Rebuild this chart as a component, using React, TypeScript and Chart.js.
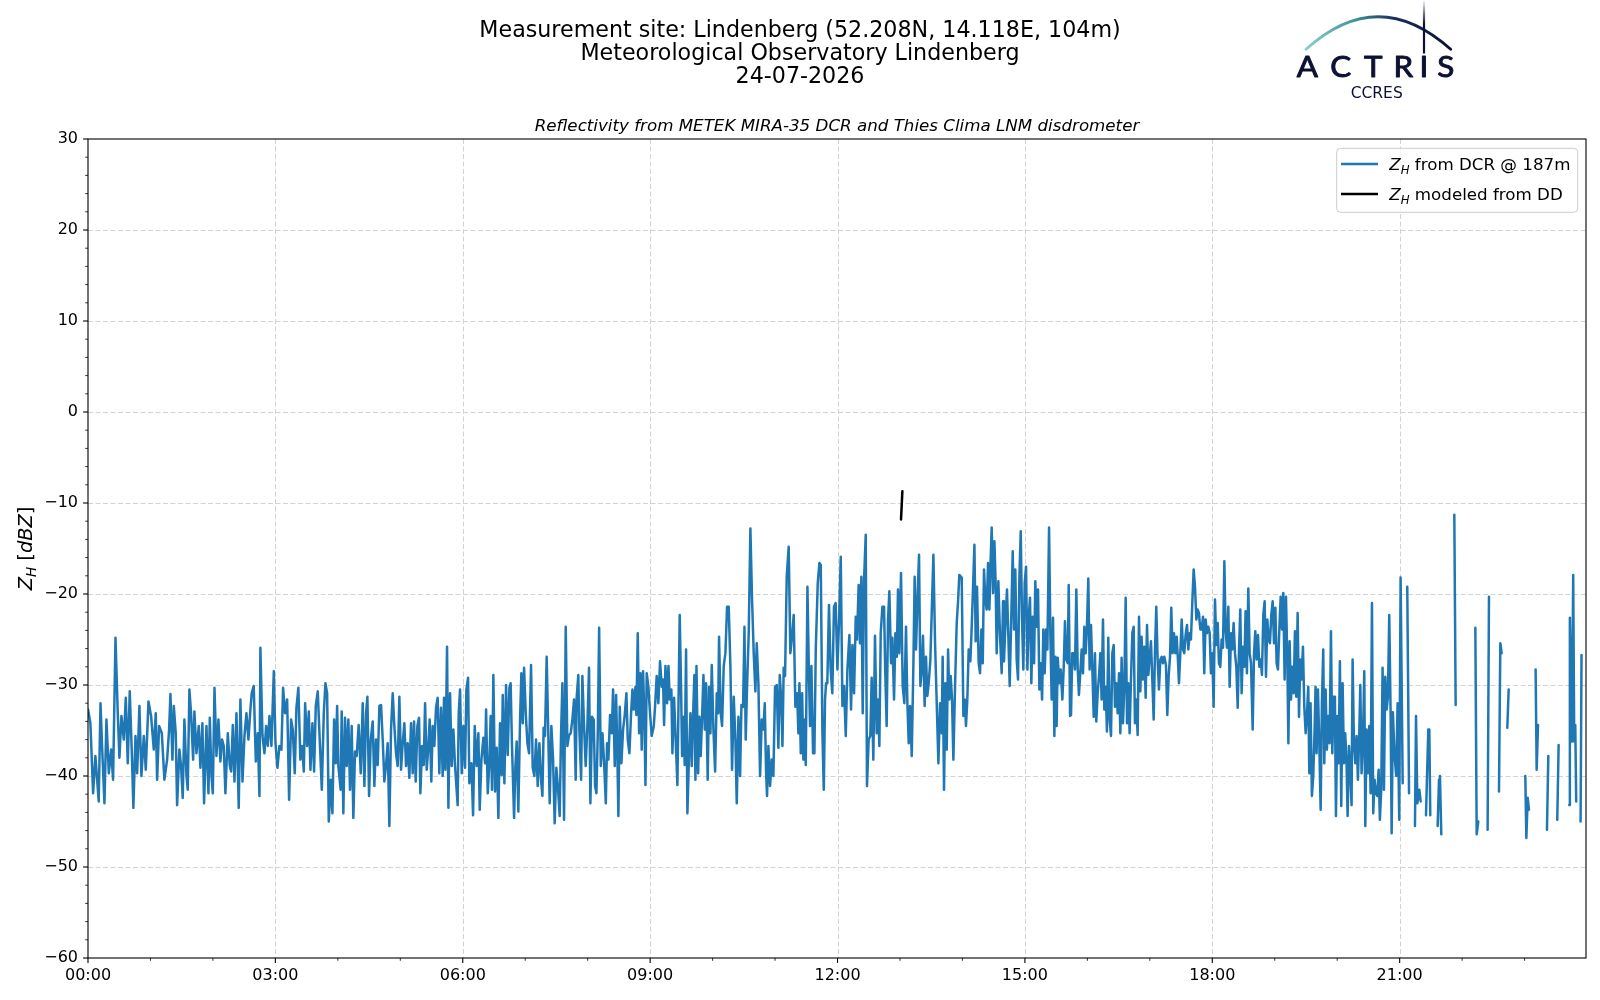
import { useEffect, useRef } from 'react';
import { Chart, registerables } from 'chart.js';

Chart.register(...registerables);

// ---- data: minutes after 00:00 UTC and Z_H in dBZ ----

// 00:00 - 04:00
const minutesA = [
  0.0, 2.3, 4.9, 7.1, 10.3, 12.0, 13.5, 15.8, 17.7, 20.0,
  22.2, 24.1, 26.4, 28.6, 30.2, 32.1, 34.4, 36.3, 38.2, 40.1,
  42.1, 43.6, 45.6, 47.2, 49.4, 51.3, 53.6, 55.5, 58.1, 60.6,
  63.2, 65.1, 66.4, 68.3, 70.9, 73.4, 76.0, 77.9, 79.2, 81.1,
  82.4, 84.3, 85.6, 87.8, 89.4, 91.0, 92.6, 94.6, 95.8, 97.4,
  99.0, 101.0, 102.2, 104.2, 106.4, 108.0, 109.9, 111.5, 113.8, 115.7,
  117.0, 118.6, 119.9, 121.5, 123.4, 125.3, 127.2, 128.8, 130.4, 132.0,
  134.3, 136.2, 137.5, 139.1, 140.7, 142.6, 144.8, 146.4, 148.4, 150.3,
  152.2, 154.1, 156.0, 157.3, 159.2, 161.2, 163.1, 164.7, 165.6, 167.6,
  169.5, 171.1, 172.7, 174.3, 176.2, 178.5, 180.1, 182.0, 183.9, 185.8,
  187.4, 189.3, 191.3, 193.2, 195.1, 196.7, 198.6, 200.2, 202.1, 204.0,
  205.7, 207.3, 208.6, 210.5, 212.1, 213.7, 215.6, 217.2, 218.8, 220.7,
  222.6, 224.6, 226.5, 228.1, 229.7, 231.3, 233.2, 234.8, 236.4, 238.0,
  239.3,
];
const zhA = [
  -32.7, -34.2, -41.9, -37.8, -42.8, -32, -36.7, -43, -33.8, -39.7,
  -37.1, -40.4, -24.8, -33.1, -38, -33.4, -36, -31.4, -38.6, -30.7,
  -37.5, -43.5, -35.6, -39.7, -32.3, -40, -35.6, -39.3, -31.8, -33.4,
  -37.1, -33.1, -40.4, -34.5, -35.3, -40.4, -38.2, -34.9, -31, -38.2,
  -32.3, -35.3, -43.2, -37.1, -38.9, -42.4, -33.8, -40, -41.5, -30.5,
  -33.1, -38.2, -32.9, -37.5, -34.5, -39.1, -34.2, -43, -34.5, -41.9,
  -33.6, -40, -41.9, -30.3, -37.8, -33.8, -38.4, -36, -36.7, -41.9,
  -35.3, -38.9, -39.5, -34.4, -40.6, -33.1, -43.5, -31.6, -40.6, -35.6,
  -33.1, -36, -32.7, -30.9, -30.1, -38.4, -35.3, -42.2, -25.9, -35.6,
  -37.5, -34.5, -36.7, -33.4, -36.7, -28.5, -36.4, -39.1, -36.7, -37.1,
  -30.3, -33.1, -31.6, -42.6, -33.8, -34.9, -39.7, -32.5, -30.3, -38.2,
  -36.7, -39.5, -32, -36.7, -32.9, -39.3, -34.2, -39.5, -32.3, -30.7,
  -36, -41.5, -33.1, -29.8, -30.9, -45, -40.4, -44.1, -33.8, -38.6,
  -32.3,
];

// 04:00 - 07:52
const minutesB = [
  240.5, 242.7, 243.7, 245.3, 246.9, 248.5, 250.1, 251.7, 253.3, 254.9,
  256.5, 258.1, 260.0, 262.0, 263.9, 265.5, 267.1, 268.4, 270.0, 271.6,
  273.5, 275.1, 276.7, 278.3, 279.9, 281.5, 283.1, 284.7, 286.3, 287.9,
  289.5, 291.1, 292.7, 294.3, 295.9, 297.5, 299.1, 300.7, 302.3, 303.9,
  305.5, 307.1, 308.7, 310.3, 311.9, 313.2, 314.8, 316.4, 318.0, 319.3,
  320.9, 322.5, 323.8, 325.4, 327.0, 328.2, 329.8, 331.1, 332.7, 334.3,
  335.9, 337.5, 339.1, 340.7, 342.0, 343.3, 344.9, 346.2, 347.8, 349.4,
  351.0, 352.6, 355.1, 356.1, 357.4, 359.0, 360.6, 362.2, 363.5, 365.1,
  366.3, 368.3, 369.9, 371.5, 373.4, 375.0, 376.3, 377.9, 379.8, 381.4,
  382.4, 384.0, 385.6, 386.8, 388.1, 389.4, 391.0, 392.6, 394.2, 395.8,
  397.4, 398.4, 400.0, 401.6, 403.2, 404.8, 406.0, 407.3, 409.3, 410.5,
  411.8, 413.4, 415.0, 416.3, 417.6, 418.9, 420.5, 422.1, 423.7, 425.6,
  427.2, 428.8, 430.4, 432.0, 433.6, 435.2, 436.5, 437.7, 439.0, 440.6,
  442.2, 443.5, 445.1, 446.7, 448.3, 449.9, 451.5, 453.1, 454.4, 455.7,
  457.3, 458.9, 460.5, 462.1, 463.7, 465.3, 466.9, 468.5, 469.4, 471.0,
  472.0,
];
const zhB = [
  -38.9, -41.5, -32.9, -44.1, -33.6, -38.9, -33.8, -41.5, -34.5, -44.6,
  -37.3, -37.8, -34.4, -39.7, -32, -41.1, -33.1, -31.3, -42.2, -36,
  -34, -41.1, -36, -38.8, -32.3, -32.2, -36, -40.6, -38.8, -36.4,
  -45.5, -34.9, -30.9, -34.5, -37.5, -38.9, -31.3, -39.3, -36.4, -34.2,
  -38.9, -36.4, -40.2, -34.2, -39.7, -34, -40.6, -34.5, -33.6, -41.9,
  -36.7, -38.8, -32, -39.3, -36.7, -33.8, -40.6, -34.5, -36.7, -32.5,
  -31.4, -39.7, -32.5, -40, -31.4, -39.3, -25.8, -43.5, -30.9, -38.9,
  -34.9, -38.9, -43.2, -33.1, -30.5, -39.7, -34.5, -39.1, -30.5, -29.2,
  -40.8, -38.6, -44.3, -34.5, -38.9, -35.3, -43.7, -38.2, -35.8, -38.6,
  -32.7, -41.9, -38.4, -33.4, -41.5, -28.9, -41.7, -36.9, -44.6, -34.2,
  -39.9, -31.1, -40.8, -30, -37.7, -30.3, -29.8, -36.7, -44.6, -39.1,
  -36.2, -43.9, -34, -28.7, -34.2, -28.1, -33.1, -36.4, -37.5, -27.8,
  -39.1, -40, -36, -41.1, -36.4, -40.4, -42.2, -34.7, -35.6, -26.9,
  -35.6, -43, -34.5, -38, -45.2, -39.1, -41.3, -44.4, -35.5, -29.8,
  -44.8, -23.6, -36.7, -35.5, -35.3, -33.8, -31.6, -40.4, -31.4, -28.9,
  -34.9,
];

// 07:53 - 11:48
const minutesC = [
  473.7, 474.9, 476.5, 478.1, 479.7, 481.3, 482.6, 484.2, 485.8, 487.1,
  488.4, 489.7, 491.0, 492.6, 494.2, 495.8, 497.4, 498.6, 499.9, 501.5,
  503.1, 504.4, 506.0, 507.3, 508.6, 509.5, 510.8, 512.4, 514.0, 515.6,
  517.2, 518.5, 520.1, 521.7, 523.0, 524.3, 525.9, 526.8, 528.1, 529.4,
  530.7, 531.9, 533.2, 534.5, 535.5, 536.7, 538.3, 539.9, 541.5, 543.5,
  544.7, 546.3, 547.9, 549.5, 551.2, 552.4, 553.4, 554.7, 556.3, 557.6,
  558.8, 560.4, 561.4, 563.0, 564.3, 566.2, 568.4, 569.7, 570.7, 572.3,
  573.2, 574.5, 575.8, 577.4, 578.7, 580.0, 581.3, 582.5, 583.5, 584.5,
  586.1, 587.3, 588.6, 589.9, 591.2, 592.5, 593.7, 595.3, 596.6, 597.9,
  599.2, 600.8, 602.4, 604.0, 605.3, 606.2, 607.8, 609.1, 610.7, 612.3,
  613.9, 615.5, 617.1, 618.7, 620.3, 621.9, 623.2, 624.8, 626.4, 627.7,
  629.3, 630.6, 631.8, 633.1, 634.7, 636.3, 637.9, 639.5, 641.1, 642.4,
  644.0, 645.6, 647.2, 648.8, 650.1, 651.4, 652.3, 653.6, 655.2, 656.8,
  658.4, 660.0, 661.6, 663.2, 664.5, 665.8, 667.1, 668.3, 669.6, 671.2,
  673.1, 674.7, 676.3, 677.9, 679.5, 681.2, 682.4, 683.4, 684.7, 686.0,
  687.2, 688.2, 689.5, 691.1, 692.4, 693.6, 694.9, 696.5, 697.8, 699.1,
  701.0, 702.6, 703.9, 705.5, 706.8, 708.0,
];
const zhC = [
  -40.4, -29, -34.5, -38.9, -34.5, -28.1, -43, -33.5, -33.8, -41.1,
  -41.9, -35.3, -23.7, -38.9, -35.3, -38.6, -43, -36.4, -38.2, -33.3,
  -35.3, -30.5, -38.9, -31.1, -38.2, -44.4, -32.4, -38.6, -34.9, -33.3,
  -30.9, -36, -37.5, -33.1, -30.5, -32.7, -30.2, -33.3, -24.3, -35.3,
  -28.7, -37.1, -28.5, -33.5, -41, -28.7, -30.2, -33.1, -35.6, -34.5,
  -32.4, -29, -32, -27.4, -30.2, -29.4, -34.4, -27.9, -32, -27.9,
  -31.6, -30.5, -37.5, -31.4, -35.3, -41, -22.3, -30.2, -37.8, -33.5,
  -38.8, -26.1, -44.1, -37.5, -33.1, -38.9, -33.1, -28.9, -40.4, -27.9,
  -39.7, -33.5, -37.8, -33.5, -28.9, -34.9, -29.8, -40.4, -30.2, -35.3,
  -27.8, -34.9, -39.5, -30.9, -33.1, -24.7, -33.1, -34.5, -27.9, -26.5,
  -21.4, -21.4, -27.9, -39.3, -31.3, -36, -43, -33.5, -40, -32.2,
  -32.4, -23.6, -36, -30.2, -24.3, -12.8, -20.6, -26.5, -30.7, -25.4,
  -29.8, -40, -33.8, -34.9, -32, -39.7, -42.2, -36.7, -41.1, -38.2,
  -40, -30.2, -30, -36.9, -28.9, -31.3, -36.7, -28.1, -29, -18.1,
  -14.8, -26.5, -24.7, -22.3, -32.4, -30.9, -35.3, -29.8, -37.5, -30.9,
  -38.2, -33.8, -38.8, -19.2, -27.9, -34.5, -27.9, -37.5, -37.5, -26.1,
  -18.8, -16.6, -16.8, -35.3, -41.5, -31.6,
];

// 11:49 - 15:43
const minutesD = [
  709.0, 710.2, 711.8, 713.4, 715.0, 716.6, 718.2, 719.9, 721.5, 723.1,
  724.7, 726.3, 727.9, 729.5, 731.4, 733.0, 734.3, 735.9, 737.5, 738.7,
  740.3, 741.6, 742.9, 744.2, 745.5, 747.1, 748.3, 749.9, 751.5, 752.8,
  754.4, 756.0, 757.6, 758.9, 760.2, 761.5, 763.1, 764.7, 765.8, 767.2,
  768.5, 769.8, 771.4, 772.7, 774.3, 775.6, 776.9, 778.1, 779.4, 781.0,
  782.6, 784.2, 785.8, 787.1, 788.4, 789.7, 791.3, 792.9, 794.1, 795.4,
  797.0, 798.3, 799.6, 800.9, 802.1, 803.7, 805.0, 806.3, 807.6, 809.2,
  810.8, 812.1, 813.7, 815.3, 816.9, 818.5, 820.1, 821.0, 822.3, 823.6,
  824.9, 826.2, 827.4, 828.7, 830.0, 831.3, 832.9, 834.5, 835.8, 837.0,
  839.3, 840.9, 842.2, 843.4, 844.7, 846.0, 847.6, 848.9, 850.2, 851.5,
  852.7, 854.0, 855.6, 856.9, 858.2, 859.5, 860.7, 862.0, 863.3, 864.6,
  865.9, 867.1, 868.1, 869.4, 870.7, 871.9, 872.9, 874.5, 876.1, 877.7,
  879.0, 879.9, 881.5, 882.8, 884.1, 885.4, 887.0, 888.3, 889.6, 890.8,
  892.1, 893.4, 894.7, 896.0, 897.2, 898.5, 899.8, 901.1, 902.4, 903.6,
  904.9, 906.2, 907.5, 908.8, 910.0, 911.3, 912.6, 913.9, 915.2, 916.5,
  917.7, 919.0, 920.3, 921.6, 923.2, 924.5, 925.7, 927.0, 928.3, 929.3,
  930.5, 931.5, 933.1, 934.4, 936.0, 937.3, 938.5, 939.8, 941.1, 942.1,
  943.4,
];
const zhD = [
  -29.8, -29.8, -21.2, -28.3, -30.9, -21.4, -21, -28.3, -22.8, -15.9,
  -32.3, -30.1, -35.6, -28.3, -24.5, -32.7, -25.6, -30.9, -22.5, -25,
  -19, -25.4, -18.1, -33.1, -18.4, -13.5, -41.1, -36, -35.6, -29.2,
  -38.2, -24.6, -35.3, -31.6, -36.7, -24.3, -21.4, -21.4, -28.3, -34.5,
  -22.8, -19.7, -27.6, -24.8, -31.6, -24.3, -26.9, -19.5, -26.5, -17.7,
  -30.1, -32, -23.6, -32, -36.4, -32.3, -37.8, -27.6, -18.1, -26.1,
  -19.9, -15.7, -30.1, -28.3, -24.6, -32.3, -26.9, -31.2, -29.8, -27.2,
  -20.8, -15.7, -25.4, -32, -38.6, -32, -35.3, -26.9, -41.5, -29.8,
  -37.1, -26.1, -31.6, -29, -31.6, -38.2, -30.1, -23.2, -20.8, -17.9,
  -18.2, -33.4, -31.6, -34.5, -31.6, -26.1, -27.4, -23.6, -19.2, -14.6,
  -25.2, -19.2, -27.6, -28.7, -23.9, -27.6, -17.3, -20.6, -21.7, -16.6,
  -21.7, -16.2, -12.7, -19.9, -14.2, -18.8, -26.5, -18.6, -24.6, -28.7,
  -20.8, -27.4, -22.8, -19.5, -24.6, -30.1, -22.1, -15.3, -23.9, -17.3,
  -27.2, -29.4, -18.1, -13.1, -22.5, -28.3, -18.8, -17, -28.3, -22.5,
  -20.4, -29.8, -22.5, -27.6, -18.6, -23.6, -19.5, -30.5, -27.6, -31.6,
  -23.9, -28.7, -23.9, -26.1, -12.7, -24.6, -31.6, -22.6, -35.6, -26.9,
  -34.5, -27, -29.8, -28.3, -31.6, -28, -23, -27.2, -27.6, -19,
  -33.4,
];

// 15:44 - 19:33
const minutesE = [
  944.3, 945.5, 946.8, 948.1, 949.4, 950.7, 951.9, 953.2, 954.5, 955.8,
  957.1, 958.4, 959.6, 960.9, 962.2, 963.5, 964.8, 966.1, 967.3, 968.6,
  969.9, 971.2, 972.5, 973.7, 975.0, 976.3, 977.6, 978.8, 980.1, 981.4,
  982.7, 984.0, 985.3, 986.5, 987.8, 989.1, 990.4, 991.7, 992.9, 994.2,
  995.5, 996.8, 998.1, 999.3, 1000.6, 1001.9, 1003.2, 1004.5, 1005.7, 1007.0,
  1008.3, 1009.6, 1010.9, 1012.1, 1013.4, 1014.7, 1016.0, 1017.3, 1018.6, 1019.8,
  1021.1, 1022.4, 1023.7, 1025.0, 1026.2, 1027.5, 1028.8, 1030.1, 1031.4, 1032.6,
  1033.9, 1035.5, 1036.8, 1038.1, 1039.4, 1040.6, 1041.9, 1043.2, 1044.5, 1045.8,
  1047.0, 1048.0, 1049.3, 1050.6, 1051.9, 1053.1, 1054.4, 1055.7, 1057.0, 1058.3,
  1059.5, 1060.8, 1062.1, 1063.4, 1064.7, 1065.9, 1067.2, 1068.5, 1069.8, 1071.1,
  1072.3, 1073.6, 1074.9, 1076.2, 1077.5, 1078.7, 1080.0, 1081.3, 1082.6, 1083.9,
  1085.2, 1086.4, 1087.7, 1089.0, 1090.3, 1091.6, 1092.8, 1094.1, 1095.4, 1096.7,
  1098.0, 1099.2, 1100.5, 1101.8, 1103.1, 1104.4, 1105.6, 1106.9, 1108.2, 1109.5,
  1110.8, 1112.0, 1113.3, 1114.6, 1115.9, 1117.2, 1118.8, 1120.1, 1121.3, 1122.6,
  1123.9, 1125.2, 1126.5, 1127.7, 1129.0, 1130.3, 1131.6, 1132.9, 1134.1, 1135.4,
  1136.7, 1138.0, 1139.3, 1140.6, 1141.8, 1143.1, 1144.4, 1145.7, 1147.0, 1148.2,
  1149.5, 1150.8, 1152.1, 1153.1, 1154.3, 1155.6, 1156.9, 1158.2, 1159.4, 1160.7,
  1162.0, 1163.3, 1164.6, 1165.8, 1167.1, 1168.4, 1169.7, 1171.0, 1172.2, 1173.2,
];
const zhE = [
  -33.3, -26.5, -26.5, -28.3, -19.5, -28.1, -31.1, -28.7, -26.1, -28.7,
  -23.6, -26.5, -23.6, -18.3, -28.3, -23.4, -28.3, -33.5, -26.5, -34,
  -30.9, -29, -26.5, -31.6, -22.8, -32.7, -30.2, -35.1, -24.8, -33.8,
  -35.6, -26.5, -25.6, -32.4, -29.8, -33.1, -28.7, -35.3, -27, -34.2,
  -30.3, -20.4, -34.2, -29.8, -35.3, -29.4, -24.3, -23.6, -34.2, -31.6,
  -35.5, -22.5, -30.7, -24.7, -29.4, -25.8, -31.4, -23.4, -28.9, -26.9,
  -25.2, -29.4, -33.8, -26.1, -21.4, -27.2, -30.5, -27.2, -26.9, -27.6,
  -26.9, -27.8, -33.3, -29, -26.9, -21.5, -26.5, -24.3, -26.5, -24.7,
  -27.2, -29.8, -26.5, -22.8, -26.1, -26.5, -24.5, -23.4, -26.1, -24.3,
  -25, -21, -17.3, -19.2, -22.8, -21.7, -22.1, -23.9, -23.9, -22.5,
  -28.7, -22.8, -24.3, -23.6, -24.3, -28.7, -26.5, -32.4, -20.6, -25.6,
  -23.2, -27.6, -28, -25, -25.9, -16.4, -23.9, -25.9, -21.4, -30.2,
  -24.3, -26.1, -23.2, -26.5, -28, -32.5, -26.5, -21.7, -30.9, -25.8,
  -28, -21.9, -28.7, -19.4, -26.5, -27.6, -34.9, -26.5, -24.1, -27.2,
  -24.5, -28, -27.2, -28.9, -22.3, -20.8, -29.1, -22.8, -25, -25.4,
  -22.3, -20.8, -25.4, -21.5, -27.6, -28.3, -23.9, -20.3, -23.9, -19.9,
  -29.4, -20.3, -27.2, -36.4, -25.2, -31.6, -28, -30.9, -24.1, -31.3,
  -22.1, -33.5, -27.2, -29.4, -25.8, -32.4, -35.3, -33.1, -30.2, -39.7,
];

// 19:34 - 21:00
const minutesF = [
  1174.4, 1175.7, 1177.0, 1178.3, 1179.2, 1180.2, 1181.5, 1182.8, 1184.1, 1185.3,
  1186.6, 1187.6, 1188.9, 1190.1, 1191.4, 1192.7, 1194.0, 1195.3, 1196.5, 1197.8,
  1198.8, 1200.1, 1201.3, 1202.6, 1203.9, 1205.2, 1206.5, 1207.7, 1209.0, 1210.0,
  1211.3, 1212.5, 1213.8, 1214.8, 1216.1, 1217.4, 1218.6, 1219.9, 1221.2, 1222.2,
  1223.4, 1224.7, 1226.0, 1227.0, 1228.2, 1229.5, 1230.8, 1232.1, 1233.4, 1234.6,
  1235.9, 1237.2, 1238.5, 1239.8, 1241.0, 1242.3, 1243.6, 1244.9, 1246.2, 1247.5,
  1248.7, 1250.0, 1251.3, 1252.3, 1253.5, 1255.1, 1256.7, 1258.0, 1259.6,
];
const zhF = [
  -32, -42.2, -40, -34.9, -30.2, -37.5, -30.5, -36.4, -43.7, -32,
  -26.1, -38.6, -30.5, -37.1, -33.4, -36.4, -24.1, -37.5, -31.3, -31.3,
  -44.4, -33.4, -38.6, -27.4, -43.3, -29.8, -38.6, -35.3, -38.6, -44.4,
  -36.7, -39.3, -43.2, -27.2, -36.4, -38.6, -35.6, -40.4, -35.3, -30,
  -39.7, -36.4, -28.5, -45.5, -34.9, -39.7, -34.5, -41.9, -21, -44.1,
  -40.4, -41.9, -42.2, -39.3, -44.8, -41.5, -28.1, -41.5, -29.1, -32.7,
  -31.3, -22.3, -33, -46.3, -33, -37.8, -40, -32, -44.8,
];

// 21:00 - 24:00, broken record (null = no echo)
const minutesG = [
  1260.9, 1262.9, 1265, 1267.3, 1269.0, 1272,
  1274.7, 1275.7, 1277.0, 1278.9, 1280.2, 1283,
  1285.3, 1287.5, 1288.5, 1289.4, 1293,
  1296.5, 1297.8, 1298.7, 1300.0, 1306,
  1312.5, 1313.8, 1323,
  1332.7, 1334.0, 1335.5, 1340,
  1344.5, 1345.8, 1350,
  1355.4, 1356.7, 1358.0, 1361,
  1363.4, 1364.7, 1372,
  1380.7, 1381.7, 1383.0, 1384.2, 1387,
  1390.6, 1391.6, 1392.9, 1397,
  1401.5, 1402.8, 1407,
  1411.4, 1412.7, 1418,
  1422.9, 1423.5, 1425.5, 1426.7, 1427.7, 1428.7, 1429.6, 1432,
  1433.8, 1434.7,
];
const zhG = [
  -18.2, -40.8, null, -19.2, -41.9, null,
  -45.5, -33.4, -43, -41.5, -42.8, null,
  -44.3, -34.9, -34.9, -44.3, null,
  -45.5, -40.4, -40, -46.4, null,
  -11.3, -32.2, null,
  -23.7, -46.4, -45, null,
  -45.9, -20.3, null,
  -41.7, -25.4, -26.5, null,
  -34.7, -30.5, null,
  -40, -46.8, -42.4, -43.7, null,
  -28.3, -39.3, -34.4, null,
  -45.9, -37.8, null,
  -44.8, -36.6, null,
  -43.2, -22.6, -36.2, -17.9, -36.2, -34.4, -42.8, null,
  -45, -26.7,
];

// modeled from disdrometer
const ddMinutes = [781.0, 782.3];
const ddZh = [-11.8, -8.7];

const dcrMinutes = [...minutesA, ...minutesB, ...minutesC, ...minutesD, ...minutesE, ...minutesF, ...minutesG];
const dcrZh: (number | null)[] = [...zhA, ...zhB, ...zhC, ...zhD, ...zhE, ...zhF, ...zhG];

const timeTickMinutes = [0, 180, 360, 540, 720, 900, 1080, 1260];
const timeTickText = ['00:00', '03:00', '06:00', '09:00', '12:00', '15:00', '18:00', '21:00'];
const zTickValues = [-60, -50, -40, -30, -20, -10, 0, 10, 20, 30];
const zTickText = ['\u221260', '\u221250', '\u221240', '\u221230', '\u221220', '\u221210', '0', '10', '20', '30'];

const titleLines = [
  'Measurement site: Lindenberg (52.208N, 14.118E, 104m)',
  'Meteorological Observatory Lindenberg',
  '24-07-2026',
];
const subtitle = 'Reflectivity from METEK MIRA-35 DCR and Thies Clima LNM disdrometer';
const legendRest = [' from DCR @ 187m', ' modeled from DD'];
const legendColors = ['#1f77b4', '#000000'];

const FAMILY = '"DejaVu Sans"';

type Part = { t: string; italic?: boolean; sub?: boolean };

function partFont(p: Part, size: number) {
  const s = p.sub ? size * 0.7 : size;
  return `${p.italic ? 'italic ' : ''}${s}px ${FAMILY}`;
}

function measureParts(ctx: CanvasRenderingContext2D, parts: Part[], size: number) {
  let w = 0;
  for (const p of parts) {
    ctx.font = partFont(p, size);
    w += ctx.measureText(p.t).width;
  }
  return w;
}

function drawParts(ctx: CanvasRenderingContext2D, parts: Part[], x: number, y: number, size: number) {
  let cx = x;
  ctx.textAlign = 'left';
  ctx.textBaseline = 'alphabetic';
  for (const p of parts) {
    ctx.font = partFont(p, size);
    ctx.fillText(p.t, cx, p.sub ? y + size * 0.22 : y);
    cx += ctx.measureText(p.t).width;
  }
}

const figurePlugin = {
  id: 'figure',
  beforeDraw(chart: any) {
    const ctx = chart.ctx;
    ctx.save();
    ctx.fillStyle = '#ffffff';
    ctx.fillRect(0, 0, chart.width, chart.height);
    ctx.restore();
  },
  beforeDatasetsDraw(chart: any) {
    const { ctx, chartArea: a, scales } = chart;
    ctx.save();
    ctx.strokeStyle = '#d3d3d3';
    ctx.lineWidth = 1;
    ctx.setLineDash([5, 2.5]);
    for (const m of timeTickMinutes) {
      if (m === 0) continue;
      const x = Math.round(scales.x.getPixelForValue(m)) + 0.5;
      ctx.beginPath();
      ctx.moveTo(x, a.top);
      ctx.lineTo(x, a.bottom);
      ctx.stroke();
    }
    for (const v of zTickValues) {
      if (v === -60 || v === 30) continue;
      const y = Math.round(scales.y.getPixelForValue(v)) + 0.5;
      ctx.beginPath();
      ctx.moveTo(a.left, y);
      ctx.lineTo(a.right, y);
      ctx.stroke();
    }
    ctx.restore();
  },
  afterDatasetsDraw(chart: any) {
    const { ctx, chartArea: a, scales } = chart;
    ctx.save();
    ctx.strokeStyle = '#000';
    // minor ticks
    ctx.lineWidth = 0.8;
    for (let v = -60; v <= 30; v += 2) {
      if (v % 10 === 0) continue;
      const y = scales.y.getPixelForValue(v);
      ctx.beginPath();
      ctx.moveTo(a.left - 2.8, y);
      ctx.lineTo(a.left, y);
      ctx.stroke();
    }
    for (let m = 60; m < 1440; m += 60) {
      if (m % 180 === 0) continue;
      const x = scales.x.getPixelForValue(m);
      ctx.beginPath();
      ctx.moveTo(x, a.bottom);
      ctx.lineTo(x, a.bottom + 2.8);
      ctx.stroke();
    }
    // major ticks
    ctx.lineWidth = 1.1;
    for (const v of zTickValues) {
      const y = scales.y.getPixelForValue(v);
      ctx.beginPath();
      ctx.moveTo(a.left - 4.9, y);
      ctx.lineTo(a.left, y);
      ctx.stroke();
    }
    for (const m of timeTickMinutes) {
      const x = scales.x.getPixelForValue(m);
      ctx.beginPath();
      ctx.moveTo(x, a.bottom);
      ctx.lineTo(x, a.bottom + 4.9);
      ctx.stroke();
    }
    // frame
    ctx.strokeRect(a.left, a.top, a.right - a.left, a.bottom - a.top);
    ctx.restore();
  },
  afterDraw(chart: any) {
    const { ctx, chartArea: a } = chart;
    ctx.save();
    ctx.fillStyle = '#000';

    // figure title
    ctx.font = `22.2px ${FAMILY}`;
    ctx.textAlign = 'center';
    ctx.textBaseline = 'alphabetic';
    titleLines.forEach((line, i) => ctx.fillText(line, 800, 36.7 + i * 23));

    // axes title
    ctx.font = `italic 16.7px ${FAMILY}`;
    ctx.fillText(subtitle, (a.left + a.right) / 2, 130.5);

    // y label
    const yParts: Part[] = [
      { t: 'Z', italic: true },
      { t: 'H', italic: true, sub: true },
      { t: ' [' },
      { t: 'dBZ', italic: true },
      { t: ']' },
    ];
    ctx.save();
    ctx.translate(32, (a.top + a.bottom) / 2);
    ctx.rotate(-Math.PI / 2);
    const yw = measureParts(ctx, yParts, 19.4);
    drawParts(ctx, yParts, -yw / 2, 0, 19.4);
    ctx.restore();

    // legend
    const lx = 1336.7;
    const ly = 148.3;
    ctx.beginPath();
    ctx.roundRect(lx, ly, a.right - 8.3 - lx, 64, 4);
    ctx.fillStyle = 'rgba(255,255,255,0.8)';
    ctx.fill();
    ctx.strokeStyle = '#cccccc';
    ctx.lineWidth = 1;
    ctx.stroke();
    legendRest.forEach((rest, i) => {
      const cy = 164 + i * 30;
      ctx.strokeStyle = legendColors[i];
      ctx.lineWidth = 2.4;
      ctx.beginPath();
      ctx.moveTo(1341, cy);
      ctx.lineTo(1378, cy);
      ctx.stroke();
      ctx.fillStyle = '#000';
      drawParts(ctx, [{ t: 'Z', italic: true }, { t: 'H', italic: true, sub: true }, { t: rest }], 1389.3, cy + 6.4, 16.7);
    });

    // ACTRIS / CCRES logo
    const arc = ctx.createLinearGradient(1306, 0, 1451, 0);
    arc.addColorStop(0, '#86d0cb');
    arc.addColorStop(0.35, '#3f8f9e');
    arc.addColorStop(0.6, '#1a2f5c');
    arc.addColorStop(1, '#0c1133');
    ctx.strokeStyle = arc;
    ctx.lineWidth = 2.8;
    ctx.lineCap = 'round';
    ctx.beginPath();
    ctx.moveTo(1306, 49.3);
    ctx.quadraticCurveTo(1378, -15.9, 1450.7, 49.3);
    ctx.stroke();
    const bar = ctx.createLinearGradient(0, 1, 0, 24);
    bar.addColorStop(0, 'rgba(12,17,51,0.05)');
    bar.addColorStop(1, 'rgba(12,17,51,1)');
    ctx.fillStyle = bar;
    ctx.fillRect(1422.9, 1, 2.2, 52.5);
    ctx.fillStyle = '#0c1133';
    ctx.strokeStyle = '#0c1133';
    ctx.lineWidth = 0.9;
    ctx.lineJoin = 'round';
    ctx.font = '28px Lato';
    ctx.textAlign = 'center';
    const letters = ['A', 'C', 'T', 'R', 'I', 'S'];
    const letterX = [1307.3, 1340.7, 1373.3, 1403.3, 1424, 1445.7];
    letters.forEach((c, i) => {
      ctx.save();
      ctx.translate(letterX[i], 77.3);
      ctx.scale(1.12, 1);
      ctx.fillText(c, 0, 0);
      ctx.strokeText(c, 0, 0);
      ctx.restore();
    });
    ctx.font = `15.5px ${FAMILY}`;
    ctx.fillText('CCRES', 1376.7, 98.3);
    ctx.restore();
  },
};

export default function App() {
  const canvasRef = useRef<HTMLCanvasElement>(null);

  useEffect(() => {
    if (!canvasRef.current) return;
    const chart = new Chart(canvasRef.current, {
      type: 'line',
      data: {
        datasets: [
          {
            label: 'Z_H from DCR @ 187m',
            data: dcrMinutes.map((m, i) => ({ x: m, y: dcrZh[i] })) as any,
            borderColor: '#1f77b4',
            borderWidth: 2.5,
            pointRadius: 0,
            tension: 0,
            spanGaps: false,
            borderJoinStyle: 'round',
            borderCapStyle: 'round',
          },
          {
            label: 'Z_H modeled from DD',
            data: ddMinutes.map((m, i) => ({ x: m, y: ddZh[i] })),
            borderColor: '#000000',
            borderWidth: 2.5,
            pointRadius: 0,
            tension: 0,
            borderCapStyle: 'round',
          },
        ],
      },
      options: {
        responsive: false,
        maintainAspectRatio: false,
        devicePixelRatio: 1,
        animation: false,
        events: [],
        layout: { padding: { top: 139, right: 14, bottom: 0, left: 0 } },
        plugins: {
          legend: { display: false },
          title: { display: false },
          tooltip: { enabled: false },
        },
        scales: {
          x: {
            type: 'linear',
            min: 0,
            max: 1439,
            grid: { display: false, drawTicks: false },
            border: { display: false },
            afterBuildTicks: (scale: any) => {
              scale.ticks = timeTickMinutes.map((value) => ({ value }));
            },
            afterFit: (scale: any) => {
              scale.height = 42;
            },
            ticks: {
              padding: 8,
              maxRotation: 0,
              autoSkip: false,
              color: '#000',
              font: { family: FAMILY, size: 16 },
              callback: (v: any) => timeTickText[timeTickMinutes.indexOf(Number(v))] ?? '',
            },
          },
          y: {
            type: 'linear',
            min: -60,
            max: 30,
            grid: { display: false, drawTicks: false },
            border: { display: false },
            afterBuildTicks: (scale: any) => {
              scale.ticks = zTickValues.map((value) => ({ value }));
            },
            afterFit: (scale: any) => {
              scale.width = 88;
            },
            ticks: {
              padding: 10,
              autoSkip: false,
              color: '#000',
              font: { family: FAMILY, size: 16 },
              callback: (v: any) => zTickText[zTickValues.indexOf(Number(v))] ?? '',
            },
          },
        },
      },
      plugins: [figurePlugin],
    });
    return () => chart.destroy();
  }, []);

  return (
    <div style={{ position: 'absolute', left: 0, top: 0, width: 1600, height: 1000, background: '#fff' }}>
      <canvas ref={canvasRef} width={1600} height={1000} style={{ display: 'block', width: 1600, height: 1000 }} />
    </div>
  );
}
